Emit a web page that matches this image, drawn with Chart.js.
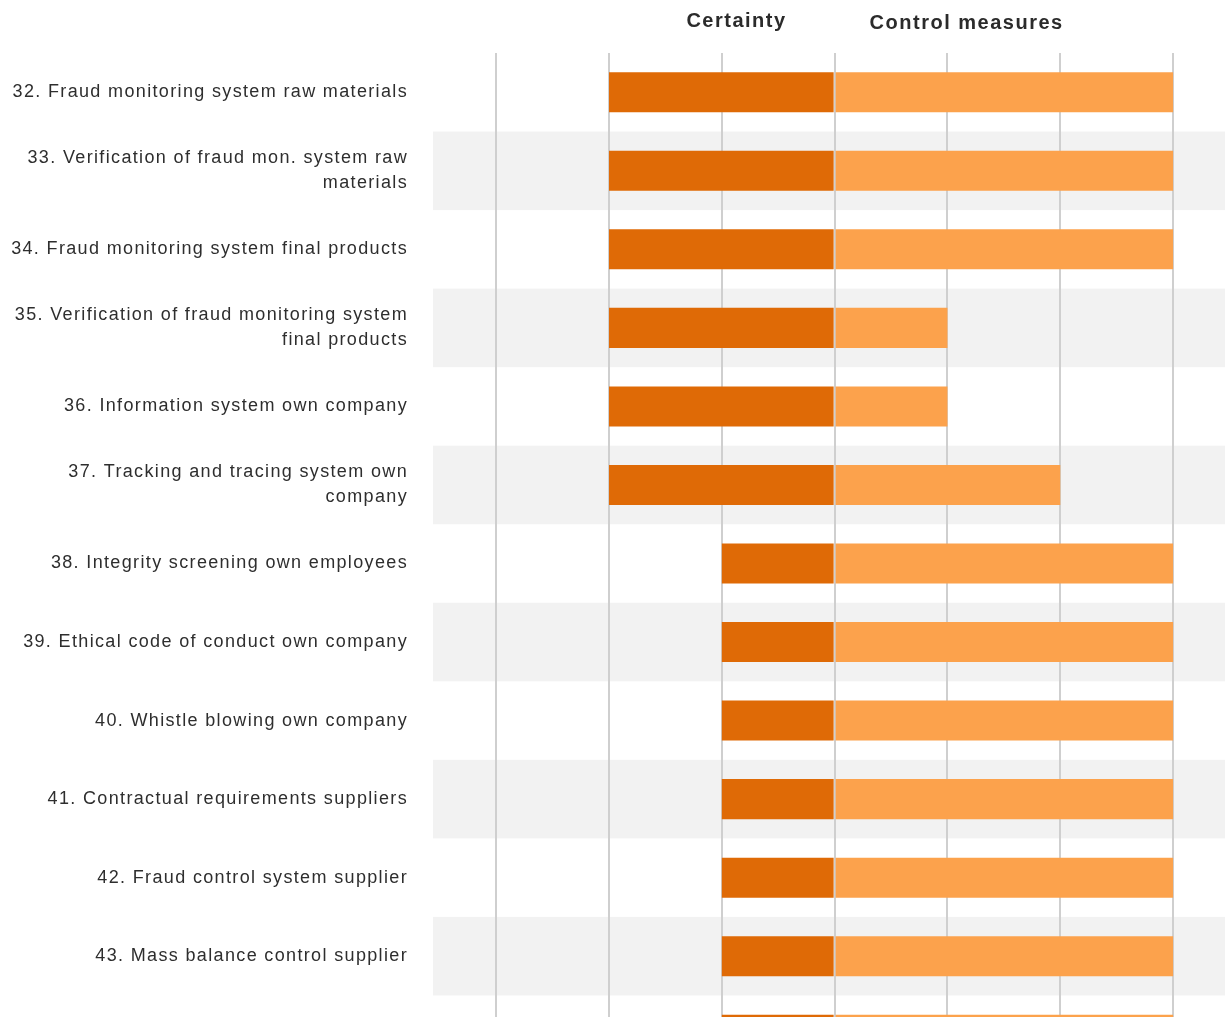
<!DOCTYPE html>
<html>
<head>
<meta charset="utf-8">
<script src="https://cdn.jsdelivr.net/npm/chart.js@4/dist/chart.umd.min.js"></script>
<style>
  html, body { margin: 0; padding: 0; background: #fff; overflow: hidden; }
  #wrap { width: 1225px; height: 1017px; overflow: hidden; }
  #chart { display: block; width: 1225px; height: 1074px; }
</style>
</head>
<body>
<div id="wrap"><canvas id="chart" width="1225" height="1074"></canvas></div>
<script>
// categories (the last one is the row cut off at the bottom edge)
const labels = [
  "32. Fraud monitoring system raw materials",
  ["33. Verification of fraud mon. system raw", "materials"],
  "34. Fraud monitoring system final products",
  ["35. Verification of fraud monitoring system", "final products"],
  "36. Information system own company",
  ["37. Tracking and tracing system own", "company"],
  "38. Integrity screening own employees",
  "39. Ethical code of conduct own company",
  "40. Whistle blowing own company",
  "41. Contractual requirements suppliers",
  "42. Fraud control system supplier",
  "43. Mass balance control supplier",
  ""
];
// bar start values (left of zero) and end values (right of zero)
const certainty = [-2, -2, -2, -2, -2, -2, -1, -1, -1, -1, -1, -1, -1];
const control   = [ 3,  3,  3,  1,  1,  2,  3,  3,  3,  3,  3,  3,  3];
const xTicks = [-3, -2, -1, 0, 1, 2, 3];
const seriesNames = ["Certainty", "Control measures"];

const DARK = "#df6a06";
const LIGHT = "#fca24c";
const FONT = "'Liberation Sans', Arial, sans-serif";

function $(id) { return document.getElementById(id); }

const bands = {
  id: "bands",
  beforeDraw(chart) {
    const { ctx, chartArea, scales } = chart;
    ctx.letterSpacing = "1.35px";
    const y = scales.y;
    const step = y.height / labels.length;
    ctx.save();
    ctx.fillStyle = "#f2f2f2";
    labels.forEach((l, i) => {
      if (i % 2 === 1) {
        const c = y.getPixelForValue(i);
        ctx.fillRect(chartArea.left, c - step / 2, chartArea.right - chartArea.left, step);
      }
    });
    ctx.restore();
  }
};

const headers = {
  id: "headers",
  afterDraw(chart) {
    const { ctx, scales } = chart;
    ctx.save();
    ctx.letterSpacing = "1.5px";
    ctx.font = "bold 20px " + FONT;
    ctx.fillStyle = "#2b2b2b";
    ctx.textAlign = "center";
    ctx.textBaseline = "middle";
    ctx.fillText(seriesNames[0], scales.x.getPixelForValue(-0.87), 21);
    ctx.fillText(seriesNames[1], scales.x.getPixelForValue(1.17), 23);
    ctx.restore();
  }
};

new Chart($("chart"), {
  type: "bar",
  data: {
    labels: labels,
    datasets: [
      {
        label: seriesNames[0],
        data: certainty.map(v => [v, 0]),
        backgroundColor: DARK,
        grouped: false,
        barPercentage: 0.51,
        categoryPercentage: 1
      },
      {
        label: seriesNames[1],
        data: control.map(v => [0, v]),
        backgroundColor: LIGHT,
        grouped: false,
        barPercentage: 0.51,
        categoryPercentage: 1
      }
    ]
  },
  options: {
    indexAxis: "y",
    responsive: false,
    animation: false,
    layout: { padding: { top: 53, right: 0, bottom: 0, left: 0 } },
    plugins: { legend: { display: false }, tooltip: { enabled: false } },
    scales: {
      x: {
        min: -3.56,
        max: 3.46,
        afterBuildTicks: s => { s.ticks = xTicks.map(v => ({ value: v })); },
        afterFit: s => { s.height = 0; },
        ticks: { display: false },
        border: { display: false },
        grid: { color: "#cfcfcf", lineWidth: 2, drawTicks: false }
      },
      y: {
        afterFit: s => { s.width = 433; s.paddingTop = 0; s.paddingBottom = 0; },
        border: { display: false },
        grid: { display: false, drawTicks: false },
        ticks: {
          padding: 25,
          color: "#2e2e2e",
          font: { family: FONT, size: 18, lineHeight: 1.39 }
        }
      }
    }
  },
  plugins: [bands, headers]
});
</script>
</body>
</html>
